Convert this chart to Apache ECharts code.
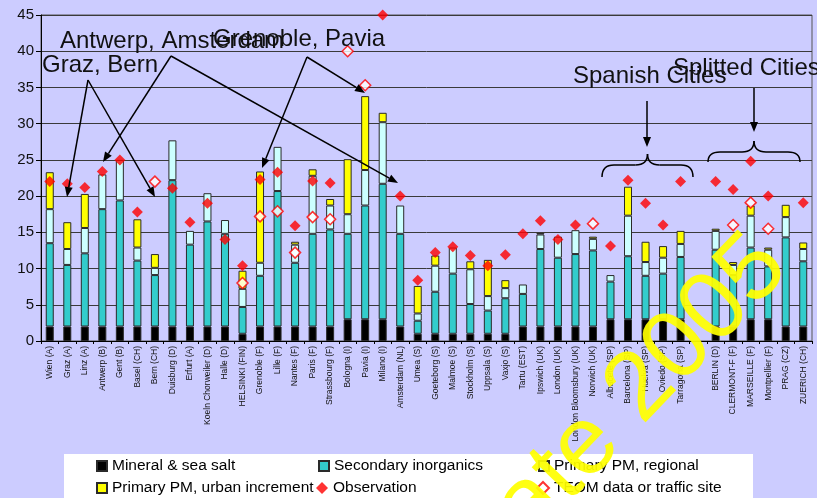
<!DOCTYPE html>
<html>
<head>
<meta charset="utf-8">
<script src="https://cdn.jsdelivr.net/npm/echarts@6/dist/echarts.min.js"></script>
<style>
  html, body { margin: 0; padding: 0; background: #CCCCFF; }
  #chart { width: 817px; height: 498px; }
</style>
</head>
<body>
<div id="chart"></div>
<script>
// PM10 source apportionment per city (µg/m³), stacked components plus measured values
const categories = [
  'Wien (A)', 'Graz (A)', 'Linz (A)', 'Antwerp (B)', 'Gent (B)', 'Basel (CH)', 'Bern (CH)',
  'Duisburg (D)', 'Erfurt (A)', 'Koeln Chorweiler (D)', 'Halle (D)', 'HELSINKI (FIN)',
  'Grenoble (F)', 'Lille (F)', 'Nantes (F)', 'Paris (F)', 'Strassbourg (F)', 'Bologna (I)',
  'Pavia (I)', 'Milano (I)', 'Amsterdam (NL)', 'Umea (S)', 'Goeteborg (S)', 'Malmoe (S)',
  'Stockholm (S)', 'Uppsala (S)', 'Vaxjo (S)', 'Tartu (EST)', 'Ipswich (UK)', 'London (UK)',
  'London Bloomsbury (UK)', 'Norwich (UK)', 'Albacete (SP)', 'Barcelona (SP)', 'Huelva (SP)',
  'Oviedo (SP)', 'Tarragona (SP)', '', 'BERLIN (D)', 'CLERMONT-F (F)', 'MARSEILLE (F)',
  'Montpellier (F)', 'PRAG (CZ)', 'ZUERICH (CH)'
];

const mineral = [
  2, 2, 2, 2, 2, 2, 2, 2, 2, 2, 2, 1, 2, 2, 2, 2, 2, 3, 3, 3, 2, 1, 1, 1, 1, 1, 1, 2, 2, 2, 2, 2,
  3, 3, 3, 3, 3, null, 2, 2, 3, 3, 2, 2
];
const secondary = [
  11.5, 8.5, 10.1, 16.2, 17.4, 9.1, 7.1, 20.2, 11.3, 14.5, 12.8, 3.7, 7.0, 18.7, 8.8, 12.8, 13.4,
  11.8, 15.7, 18.7, 12.8, 1.8, 5.8, 8.3, 4.1, 3.2, 4.9, 4.5, 10.7, 9.5, 10.0, 10.5,
  5.2, 8.7, 6.0, 6.3, 8.6, null, 10.6, 7.1, 9.9, 7.3, 12.3, 9.0
];
const regional = [
  4.7, 2.2, 3.5, 4.8, 5.6, 1.8, 1.0, 5.5, 1.9, 3.9, 1.9, 2.5, 1.8, 6.1, 2.5, 8.0, 3.3,
  2.7, 4.9, 8.5, 3.9, 1.0, 3.6, 3.6, 4.8, 2.0, 1.4, 1.3, 2.0, 2.9, 3.3, 1.6,
  0.9, 5.6, 1.9, 2.2, 1.8, null, 2.6, 1.4, 4.4, 2.3, 2.8, 1.7
];
const urban = [
  5.1, 3.7, 4.7, null, null, 3.9, 1.9, null, null, null, null, 2.5, 12.6, null, 0.4, 0.9, 0.9,
  7.6, 10.2, 1.3, null, 3.8, 1.4, null, 1.1, 5.0, 1.1, null, 0.2, null, null, 0.3,
  null, 4.0, 2.8, 1.6, 1.8, null, 0.3, 0.4, 1.4, 0.3, 1.7, 0.9
];
const observation = [
  22.0, 21.7, 21.2, 23.4, 25.0, 17.8, null, 21.1, 16.4, 19.0, 14.0, 10.4, 22.3, 23.3, 15.9, 22.1,
  21.8, null, null, 45.0, 20.0, 8.4, 12.2, 13.0, 11.8, 10.4, 11.9, 14.8, 16.6, 14.0, 16.0, null,
  13.1, 22.2, 19.0, 16.0, 22.0, null, 22.0, 20.9, 24.8, 20.0, null, 19.1
];
const teom = [
  null, null, null, null, null, null, 22.0, null, null, null, null, 8.0, 17.2, 17.9, 12.2, 17.1,
  16.8, 40.0, 35.3, null, null, null, null, null, null, null, null, null, null, null, null, 16.2,
  null, null, null, null, null, null, null, 16.0, 19.1, 15.5, null, null
];

const FONT = 'Liberation Sans, Arial, sans-serif';
const BORDER = '#2a2a2a';
const INK = { stroke: '#000', lineWidth: 1.5 };

function barSeries(name, data, color) {
  return {
    name, type: 'bar', stack: 'pm', data, barWidth: 8,
    itemStyle: { color, borderColor: BORDER, borderWidth: 1 },
    emphasis: { disabled: true }
  };
}

// callout arrow: straight line with a filled head at (x2, y2)
function arrow(x1, y1, x2, y2) {
  const a = Math.atan2(y2 - y1, x2 - x1), L = 10, W = 4;
  const bx = x2 - L * Math.cos(a), by = y2 - L * Math.sin(a);
  const nx = -Math.sin(a) * W, ny = Math.cos(a) * W;
  return [
    { type: 'line', z: 50, shape: { x1, y1, x2: bx, y2: by }, style: INK },
    { type: 'polygon', z: 50, shape: { points: [[x2, y2], [bx + nx, by + ny], [bx - nx, by - ny]] }, style: { fill: '#000' } }
  ];
}

// curly brace opening downwards, tip pointing up at the centre
function brace(x1, x2, yEnd, yMid, yTip) {
  const c = (x1 + x2) / 2, r = 12;
  const curve = (ax, ay, bx, by, cx, cy) => ({
    type: 'bezierCurve', z: 50, shape: { x1: ax, y1: ay, x2: bx, y2: by, cpx1: cx, cpy1: cy },
    style: Object.assign({ fill: null }, INK)
  });
  const seg = (ax, bx) => ({ type: 'line', z: 50, shape: { x1: ax, y1: yMid, x2: bx, y2: yMid }, style: INK });
  return [
    curve(x1, yEnd, x1 + r, yMid, x1, yMid),
    seg(x1 + r, c - r),
    curve(c - r, yMid, c, yTip, c, yMid),
    curve(c, yTip, c + r, yMid, c, yMid),
    seg(c + r, x2 - r),
    curve(x2 - r, yMid, x2, yEnd, x2, yMid)
  ];
}

function label(text, x, y) {
  return { type: 'text', z: 50, x, y, style: { text, font: `24px ${FONT}`, fill: '#111', verticalAlign: 'middle' } };
}

const legendText = { fontSize: 15.5, color: '#000', fontFamily: FONT };
function legendItem(name, left, top, icon, w, h) {
  return { data: [{ name, icon }], left, top, itemWidth: w, itemHeight: h, padding: 0,
           selectedMode: false, textStyle: legendText };
}

const graphics = [
  { type: 'rect', z: 1, shape: { x: 64, y: 454, width: 689, height: 60 }, style: { fill: '#FFFFFF' } },
  label('Antwerp, Amsterdam', 60, 41),
  label('Graz, Bern', 42, 65),
  label('Grenoble, Pavia', 213, 39),
  label('Spanish Cities', 573, 76),
  label('Splitted Cities', 673, 68),
  ...arrow(88, 80, 67, 197), ...arrow(88, 80, 155, 197),
  ...arrow(171, 56, 103, 162), ...arrow(171, 56, 398, 183),
  ...arrow(307, 57, 262, 168), ...arrow(307, 57, 365, 93),
  ...arrow(647, 101, 647, 147), ...arrow(754, 88, 754, 132),
  ...brace(602, 693, 177, 165, 154),
  ...brace(708, 800, 162, 152, 141),
  {
    type: 'text', z: 100, x: 580, y: 452, rotation: 46.3 * Math.PI / 180,
    style: { text: 'Update 2005', font: `97px ${FONT}`, fill: 'rgba(255,255,0,0.93)', align: 'center', verticalAlign: 'middle' }
  }
];

const chart = echarts.init(document.getElementById('chart'), null, { renderer: 'canvas' });
chart.setOption({
  backgroundColor: '#CCCCFF',
  animation: false,
  grid: { left: 41, right: 5, top: 15, bottom: 157, show: true, backgroundColor: '#CCCCFF', borderColor: '#555', borderWidth: 1 },
  xAxis: {
    type: 'category', data: categories, boundaryGap: true,
    axisLine: { lineStyle: { color: '#000', width: 1 } },
    axisTick: { show: true, length: 3, lineStyle: { color: '#000' } },
    axisLabel: { interval: 0, rotate: 90, fontSize: 8.5, color: '#111', fontFamily: FONT, margin: 5 }
  },
  yAxis: {
    type: 'value', min: 0, max: 45, interval: 5,
    axisLine: { show: true, lineStyle: { color: '#000', width: 1 } },
    axisTick: { show: true, length: 5, lineStyle: { color: '#000' } },
    axisLabel: { fontSize: 15, color: '#111', fontFamily: FONT, margin: 7 },
    splitLine: { lineStyle: { color: '#3a3a3a', width: 1 } }
  },
  legend: [
    legendItem('Mineral & sea salt', 96, 458, 'rect', 10, 10),
    legendItem('Secondary inorganics', 318, 458, 'rect', 10, 10),
    legendItem('Primary PM, regional', 538, 458, 'rect', 10, 10),
    legendItem('Primary PM, urban increment', 96, 480, 'rect', 10, 10),
    legendItem('Observation', 316, 480, 'diamond', 12, 12),
    legendItem('TEOM data or traffic site', 536, 480, 'diamond', 12, 12)
  ],
  series: [
    barSeries('Mineral & sea salt', mineral, '#000000'),
    barSeries('Secondary inorganics', secondary, '#33CCCC'),
    barSeries('Primary PM, regional', regional, '#CCFFFF'),
    barSeries('Primary PM, urban increment', urban, '#FFFF00'),
    {
      name: 'TEOM data or traffic site', type: 'scatter', data: teom, symbol: 'diamond', symbolSize: 11, z: 5,
      itemStyle: { color: '#FFFFFF', borderColor: '#FF0000', borderWidth: 1.5 }
    },
    {
      name: 'Observation', type: 'scatter', data: observation, symbol: 'diamond', symbolSize: 11, z: 6,
      itemStyle: { color: '#FF0000' }
    }
  ],
  graphic: graphics
});
</script>
</body>
</html>
